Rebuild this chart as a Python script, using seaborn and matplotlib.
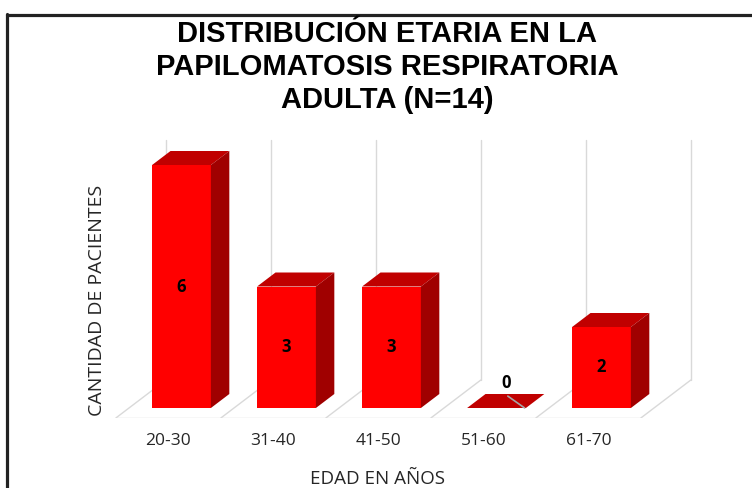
import matplotlib
matplotlib.use("Agg")
import matplotlib.pyplot as plt
from matplotlib.patches import Polygon
from matplotlib.lines import Line2D
import seaborn as sns
import pandas as pd

# ---- data ----
categories = ["20-30", "31-40", "41-50", "51-60", "61-70"]
values = [6, 3, 3, 0, 2]
title_text = "DISTRIBUCIÓN ETARIA EN LA\nPAPILOMATOSIS RESPIRATORIA\nADULTA (N=14)"
xlabel_text = "EDAD EN AÑOS"
ylabel_text = "CANTIDAD DE PACIENTES"

# ---- style ----
FRONT = "#FF0000"
TOP = "#C00000"
SIDE = "#A00000"
GRID = "#D9D9D9"

sns.set_theme(style="white")
plt.rcParams["font.family"] = ["Open Sans", "DejaVu Sans"]

W, H = 752, 488
fig = plt.figure(figsize=(W / 100, H / 100), dpi=100)
fig.patch.set_facecolor("white")

# axes placed in pixel terms
L, R, B, T = 108, 705, 418, 130
ax = fig.add_axes([L / W, (H - B) / H, (R - L) / W, (B - T) / H])

df = pd.DataFrame({"edad": categories, "n": values})
sns.barplot(data=df, x="edad", y="n", color=FRONT, saturation=1, width=0.56,
            ax=ax, zorder=3, linewidth=0)

# pseudo-3D geometry (data units)
PX_X, PX_Y = 105.0, 40.5          # pixels per data unit
DX, DY = 50 / PX_X, 38 / PX_Y     # full floor depth
Y0 = -10 / PX_Y                   # floor front edge
F1, F2 = 10 / 38, 24 / 38         # bar front/back depth fraction
bdx = (F2 - F1) * DX
bdy = (F2 - F1) * DY
off = F1 * DX                     # x shift of floor front relative to bars
n = len(categories)
WALL_TOP = (408 - 140) / PX_Y

ax.set_xlim((L - 181.5) / PX_X, (R - 181.5) / PX_X)
ax.set_ylim((408 - B) / PX_Y, (408 - T) / PX_Y)

# floor and back wall lines
ax.plot([-0.5 - off, n - 0.5 - off], [Y0, Y0], color=GRID, lw=1.0, zorder=1,
        solid_capstyle="butt")
for k in range(n + 1):
    xf = k - 0.5 - off
    ax.plot([xf, xf + DX], [Y0, Y0 + DY], color=GRID, lw=1.0, zorder=1)
    ax.plot([xf + DX, xf + DX], [Y0 + DY, WALL_TOP], color=GRID, lw=1.0, zorder=1)

# top and side faces from the seaborn bars
lab_font = ["Open Sans", "DejaVu Sans"]
for p, v in zip(ax.patches, values):
    x0, w, h = p.get_x(), p.get_width(), p.get_height()
    x1 = x0 + w
    top = Polygon([(x0, h), (x1, h), (x1 + bdx, h + bdy), (x0 + bdx, h + bdy)],
                  closed=True, facecolor=TOP, edgecolor="none", zorder=4)
    ax.add_patch(top)
    if h > 0:
        side = Polygon([(x1, 0), (x1 + bdx, bdy), (x1 + bdx, h + bdy), (x1, h)],
                       closed=True, facecolor=SIDE, edgecolor="none", zorder=4)
        ax.add_patch(side)
        ax.text(x0 + w / 2, h / 2, str(v), ha="center", va="center",
                fontsize=12, fontweight="bold", color="black", zorder=6,
                family=lab_font)
    else:
        cx = x0 + w / 2 + bdx / 2
        ax.plot([cx + 0.02, cx + 0.18], [bdy * 0.85, 0.0], color="#A6A6A6",
                lw=1.2, zorder=5)
        ax.text(cx, 0.62, str(v), ha="center", va="center",
                fontsize=12, fontweight="bold", color="black", zorder=6,
                family=lab_font)

for s in ax.spines.values():
    s.set_visible(False)
ax.set_yticks([])
ax.set_xticks([i - off for i in range(n)])
ax.set_xticklabels(categories, fontsize=12.5, color="#262626")
ax.tick_params(axis="x", length=0, pad=11)

ax.set_xlabel(xlabel_text, fontsize=13.5, color="#262626")
ax.xaxis.set_label_coords((377 - L) / (R - L), (B - 479) / (B - T))
ax.xaxis.label.set_va("center")
ax.set_ylabel(ylabel_text, fontsize=14, color="#262626")
ax.yaxis.set_label_coords((97 - L) / (R - L), (B - 300) / (B - T))
ax.yaxis.label.set_va("center")

fig.text(387 / W, 1 - 67 / H, title_text, ha="center", va="center",
         fontsize=21, fontweight="bold", color="black", linespacing=1.22,
         family=["Liberation Sans", "DejaVu Sans"])

# frame (top and left edges)
fig.add_artist(Line2D([6.5 / W, 1.0], [1 - 15 / H, 1 - 15 / H],
                      transform=fig.transFigure, color="#222222", lw=2.3))
fig.add_artist(Line2D([7 / W, 7 / W], [1 - 14 / H, 0.0],
                      transform=fig.transFigure, color="#222222", lw=2.3))

fig.savefig("out.png", dpi=100, facecolor="white")
